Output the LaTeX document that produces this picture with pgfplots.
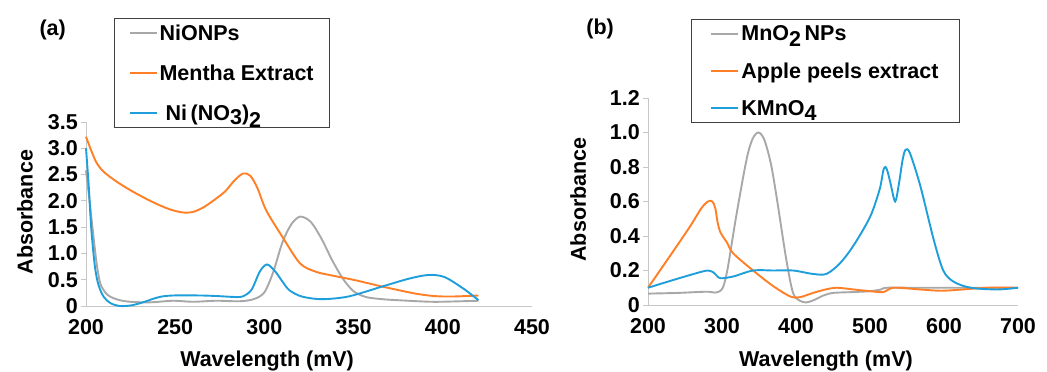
\documentclass[border=0pt]{standalone}
\usepackage{pgfplots}
\pgfplotsset{compat=1.18}
\usepackage{fontspec}
\setmainfont{Liberation Sans}
\definecolor{cgray}{RGB}{168,168,168}
\definecolor{corange}{RGB}{255,127,39}
\definecolor{cblue}{RGB}{30,158,218}
\newcommand\ff{\fontsize{21.5}{25}\selectfont\bfseries}
\pgfplotsset{mystyle/.style={
  scale only axis, axis lines=left,
  axis line style={-, draw=black!22, line width=0.9pt},
  xtick style={draw=none},
  ytick style={draw=black!22, line width=0.9pt},
  tick align=outside, major tick length=5pt,
  tick label style={font=\ff},
  /pgf/number format/assume math mode=true,
  xticklabel style={inner sep=0pt, yshift=-8pt, anchor=north},
  yticklabel style={inner sep=0pt, xshift=-3pt, anchor=east},
  label style={font=\ff},
  every axis plot/.append style={line width=1.9pt, smooth, tension=0.5, no markers},
  legend image code/.code={\draw[#1, line width=2pt] (0pt,0pt) -- (27pt,0pt);},
  legend style={draw=black!75, line width=0.9pt, font=\ff, anchor=north west},
  legend cell align=left,
  clip=false,
}}
\begin{document}
\begin{tikzpicture}
\begin{axis}[mystyle, at={(86pt,66pt)}, anchor=south west,
  width=446pt, height=184pt,
  xmin=200, xmax=450, ymin=0, ymax=3.5,
  xtick={200,250,300,350,400,450},
  ytick={0,0.5,1,1.5,2,2.5,3,3.5},
  yticklabels={0,0.5,1.0,1.5,2.0,2.5,3.0,3.5},
  xlabel={Wavelength (mV)}, ylabel={Absorbance},
  xlabel style={at={(axis description cs:0.406,-0.3315)}, anchor=base},
  ylabel style={at={(axis description cs:-0.137,0.51)}, anchor=center},
  legend style={at={(axis description cs:0.063,1.565)}, row sep=19pt, inner xsep=14pt, inner ysep=4pt,
    column 2/.style={text width=194pt}},
]
\addplot[cgray] coordinates {(200,2.58)(202,2.0)(204,1.38)(206,0.80)(208,0.43)(211,0.25)(214,0.17)(219,0.11)(225,0.08)(236,0.07)(249,0.10)(260,0.08)(273,0.10)(286,0.09)(294,0.13)(300,0.26)(305,0.65)(310,1.20)(315,1.55)(320,1.70)(326,1.60)(332,1.28)(338,0.87)(344,0.52)(350,0.28)(357,0.17)(366,0.13)(375,0.11)(394,0.08)(410,0.09)(420,0.10)};
\addlegendentry{NiONPs\rule[-6pt]{0pt}{1pt}}
\addplot[corange] coordinates {(200,3.22)(203,2.95)(206,2.72)(210,2.55)(217,2.37)(225,2.20)(236,2.00)(246,1.85)(254,1.78)(260,1.79)(266,1.88)(272,2.02)(278,2.18)(283,2.38)(288,2.52)(292,2.48)(296,2.25)(301,1.82)(310,1.32)(320,0.81)(329,0.65)(338,0.58)(351,0.49)(366,0.37)(384,0.24)(395,0.19)(405,0.18)(420,0.20)};
\addlegendentry{Mentha Extract}
\addplot[cblue] coordinates {(200,3.00)(201.5,2.3)(203,1.45)(205,0.75)(207,0.40)(210,0.17)(214,0.05)(219,0.00)(225,0.01)(231,0.06)(241,0.17)(249,0.20)(264,0.20)(273,0.19)(285,0.17)(289,0.20)(293,0.32)(297.5,0.66)(301.5,0.79)(306,0.66)(310,0.47)(314,0.30)(321,0.18)(332,0.13)(347,0.18)(366,0.37)(381,0.52)(392,0.59)(401,0.55)(412,0.32)(420,0.11)};
\addlegendentry{\hspace*{6pt}Ni\,(NO\raisebox{-4pt}{3})\raisebox{-7pt}{2}\rule[-20pt]{0pt}{1pt}}
\node[font=\ff, anchor=west] at (axis description cs:-0.112,1.5) {(a)};
\end{axis}
\begin{axis}[mystyle, at={(648pt,67pt)}, anchor=south west,
  width=370pt, height=207pt,
  xmin=200, xmax=700, ymin=0, ymax=1.2,
  xtick={200,300,400,500,600,700},
  ytick={0,0.2,0.4,0.6,0.8,1.0,1.2},
  yticklabels={0,0.2,0.4,0.6,0.8,1.0,1.2},
  xlabel={Wavelength (mV)}, ylabel={Absorbance},
  xlabel style={at={(axis description cs:0.481,-0.2995)}, anchor=base},
  ylabel style={at={(axis description cs:-0.189,0.51)}, anchor=center},
  legend style={at={(axis description cs:0.116,1.3816)}, row sep=16.5pt, inner xsep=19pt, inner ysep=4pt,
    column 2/.style={text width=210pt}},
]
\addplot[cgray] coordinates {(200,0.066)(240,0.07)(279,0.077)(290,0.072)(297,0.08)(302,0.11)(308,0.22)(319,0.51)(333,0.84)(341,0.96)(349,1.00)(357,0.96)(366,0.82)(374,0.62)(387,0.26)(396,0.07)(405,0.025)(414,0.015)(425,0.03)(437,0.055)(450,0.07)(477,0.075)(500,0.08)(515,0.09)(523,0.10)(568,0.10)(700,0.10)};
\addlegendentry{MnO\raisebox{-6pt}{2}\,NPs}
\addplot[corange] coordinates {(200,0.10)(229,0.28)(256,0.45)(272,0.56)(281,0.60)(287,0.60)(291,0.56)(294,0.48)(298,0.42)(307,0.36)(315,0.30)(342,0.20)(369,0.11)(392,0.05)(405,0.045)(423,0.07)(440,0.09)(455,0.10)(478,0.09)(500,0.08)(518,0.075)(532,0.10)(568,0.09)(600,0.083)(658,0.10)(700,0.10)};
\addlegendentry{Apple peels extract}
\addplot[cblue] coordinates {(200,0.10)(238,0.15)(270,0.19)(281,0.20)(288,0.19)(293,0.17)(298,0.155)(315,0.165)(342,0.20)(369,0.20)(396,0.20)(423,0.18)(441,0.18)(459,0.24)(477,0.34)(500,0.51)(513,0.67)(518,0.78)(521,0.80)(524,0.77)(528,0.70)(534,0.60)(539,0.70)(544,0.84)(548,0.90)(554,0.88)(568,0.69)(586,0.38)(599,0.20)(613,0.135)(636,0.10)(672,0.09)(700,0.10)};
\addlegendentry{KMnO\raisebox{-5pt}{4}}
\node[font=\ff, anchor=west] at (axis description cs:-0.176,1.332) {(b)};
\end{axis}
\pgfresetboundingbox
\path[use as bounding box] (0,0) rectangle (1047pt,372pt);
\end{tikzpicture}
\end{document}
